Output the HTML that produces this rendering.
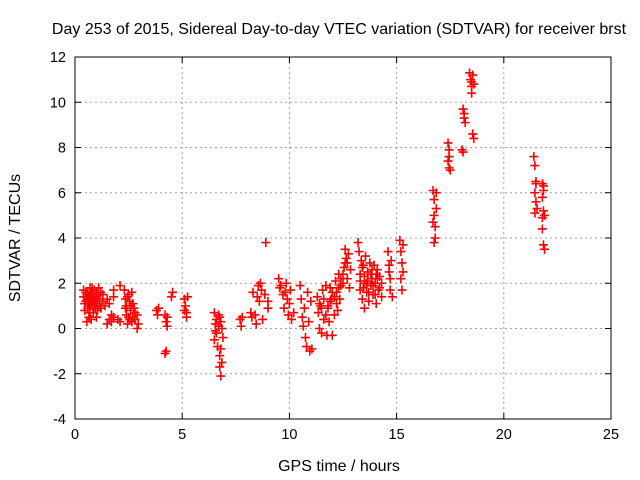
<!DOCTYPE html>
<html><head><meta charset="utf-8"><style>
body{margin:0;background:#fff}
svg{display:block;font-family:"Liberation Sans",sans-serif}
</style></head><body>
<svg id="chart" width="640" height="480">
<text x="339" y="34" text-anchor="middle" font-size="16">Day 253 of 2015, Sidereal Day-to-day VTEC variation (SDTVAR) for receiver brst</text>
<text x="339" y="471" text-anchor="middle" font-size="16">GPS time / hours</text>
<text transform="translate(20,238) rotate(-90)" text-anchor="middle" font-size="16">SDTVAR / TECUs</text>
<g id="grid"></g><g id="ticks"></g><g id="pts"></g>
<rect x="75" y="57" width="536" height="362" fill="none" stroke="#000" stroke-width="1"/>
</svg>
<script>
const xTicks=[0,5,10,15,20,25];
const yTicks=[-4,-2,0,2,4,6,8,10,12];
const hours=[0.4,0.4,0.45,0.45,0.5,0.55,0.6,0.65,0.7,0.7,0.75,0.8,0.85,0.85,0.9,0.95,1.0,1.0,1.05,1.1,1.15,1.2,1.2,1.3,1.3,1.4,1.5,1.6,1.6,1.5,1.7,1.7,1.8,1.8,1.8,2.0,2.1,2.1,
0.5,0.55,0.6,0.65,0.7,0.75,0.8,0.9,0.95,1.0,1.05,1.1,1.15,0.6,0.7,0.8,0.9,1.0,0.65,0.75,0.85,
2.3,2.35,2.4,2.4,2.45,2.5,2.5,2.55,2.6,2.65,2.65,2.7,2.8,2.8,2.9,2.9,2.95,
2.35,2.45,2.55,2.6,2.7,2.75,
3.8,3.85,3.9,4.2,4.25,4.3,4.2,4.25,4.3,4.55,4.5,
5.1,5.15,5.2,5.2,5.25,5.1,
6.5,6.55,6.5,6.6,6.6,6.65,6.7,6.75,6.75,6.8,6.8,6.85,6.85,6.9,6.55,6.7,6.8,6.75,
7.7,7.75,7.8,
8.2,8.25,8.3,8.4,8.45,8.5,8.55,8.6,8.65,8.7,8.75,8.85,8.9,9.0,9.0,
9.5,9.55,9.6,9.7,9.75,9.8,9.85,9.9,9.95,10.0,10.05,10.1,10.2,
10.5,10.55,10.6,10.65,10.7,10.75,10.8,10.85,10.9,10.95,11.0,11.05,
11.3,11.35,11.4,11.45,11.5,11.55,11.6,11.7,11.75,11.8,11.85,11.9,11.95,12.0,12.1,12.15,12.2,12.25,12.3,12.35,12.4,12.5,12.55,12.6,12.65,12.7,12.75,12.8,12.85,
11.4,11.5,11.6,11.7,11.8,11.9,12.0,12.1,12.2,12.3,12.4,12.5,12.6,12.7,
13.2,13.25,13.3,13.3,13.35,13.4,13.45,13.5,13.5,13.55,13.6,13.65,13.7,13.75,13.8,13.85,13.9,13.95,14.0,14.05,14.1,14.15,14.2,14.3,14.3,
13.3,13.4,13.5,13.6,13.7,13.8,13.9,14.0,14.1,14.2,13.45,13.65,13.85,14.05,
14.6,14.65,14.7,14.7,14.75,14.8,14.65,
15.15,15.2,15.25,15.2,15.25,15.3,15.3,
16.7,16.75,16.75,16.8,16.8,16.85,16.85,16.7,16.75,
17.4,17.45,17.4,17.45,17.5,17.45,
18.05,18.1,18.1,18.15,18.2,18.15,
18.4,18.45,18.5,18.5,18.55,18.6,18.55,18.6,18.5,
21.4,21.45,21.5,21.45,21.5,21.55,21.45,21.5,
21.8,21.85,21.8,21.85,21.9,21.8,21.85,21.9,21.85,21.8];
const sdtvar=[1.7,1.4,1.1,0.8,1.6,0.3,1.3,0.5,1.8,1.0,0.4,1.5,1.2,0.7,1.7,0.9,1.4,0.5,1.1,1.8,1.3,1.6,0.9,1.5,1.2,1.0,1.3,1.1,0.4,0.2,0.3,0.6,0.5,1.7,1.4,0.4,0.3,1.9,
1.2,1.5,1.6,1.1,1.4,1.2,1.0,1.3,1.1,1.6,0.8,1.5,1.0,0.9,0.7,1.8,1.0,1.2,1.4,1.6,1.3,
1.7,1.3,1.0,0.6,0.2,1.5,0.5,1.2,0.8,1.6,0.3,1.1,0.7,0.4,0.6,0.0,0.2,
0.9,1.4,0.4,1.0,0.5,0.9,
0.8,0.6,0.9,0.6,0.3,0.1,-1.1,-1.0,0.5,1.6,1.4,
1.3,1.0,0.7,0.5,1.4,0.8,
0.7,0.2,-0.5,0.4,-0.2,-0.8,0.6,-1.2,-1.7,-2.1,0.3,-1.5,0.0,-0.4,-0.1,0.1,-0.9,0.5,
0.4,0.1,0.5,
0.7,0.5,1.6,0.6,0.2,1.4,1.9,1.2,2.0,1.7,0.4,1.5,3.8,1.2,0.9,
2.2,1.8,1.9,1.5,0.9,1.6,2.0,1.3,0.6,1.1,1.7,0.4,0.7,
1.9,1.3,0.5,0.1,0.9,-0.4,-0.8,1.6,0.3,-1.0,1.2,-0.9,
1.4,0.7,0.0,1.0,-0.2,1.7,0.4,1.9,-0.3,1.0,0.3,1.8,1.3,-0.3,0.6,2.1,1.6,0.8,2.4,1.3,1.9,2.0,2.7,3.5,3.1,2.2,3.3,1.8,2.6,
1.1,0.9,1.3,0.6,0.9,1.2,1.6,1.4,1.1,1.8,2.2,2.4,2.9,2.9,
3.8,3.4,2.4,1.7,3.0,1.3,2.8,2.0,0.9,3.2,1.6,2.5,1.2,2.9,1.9,2.2,1.5,2.8,2.0,1.1,2.6,1.7,2.3,1.4,2.0,
2.1,2.7,2.3,2.0,1.6,2.4,1.9,1.5,2.2,1.8,1.8,2.1,2.6,2.4,
3.4,2.8,2.2,1.7,3.0,1.4,2.5,
3.9,3.4,2.9,2.2,1.7,3.7,2.5,
6.1,5.7,5.0,4.5,4.0,5.3,6.0,4.7,3.8,
8.2,7.9,7.4,7.1,7.0,7.6,
7.9,7.8,9.7,9.3,9.1,9.5,
11.3,11.0,10.7,10.4,11.2,10.8,8.6,8.4,10.9,
7.6,7.2,6.5,6.0,5.6,5.3,5.1,6.4,
6.4,6.1,5.8,5.2,5.0,4.4,3.7,3.5,6.3,4.9];
const NS="http://www.w3.org/2000/svg";
const X0=75,X1=611,Y0=419,Y1=57;
function sx(v){return X0+(v-0)/(25-0)*(X1-X0);}
function sy(v){return Y0-(v-(-4))/(12-(-4))*(Y0-Y1);}
function mk(tag,attrs,parent){const e=document.createElementNS(NS,tag);for(const k in attrs)e.setAttribute(k,attrs[k]);parent.appendChild(e);return e;}
const grid=document.getElementById('grid'),ticks=document.getElementById('ticks'),pts=document.getElementById('pts');
xTicks.forEach(t=>{const x=sx(t);
 if(t>0&&t<25){const g=mk('line',{x1:x,x2:x,y1:Y0,y2:Y1,stroke:'#a0a0a0','stroke-dasharray':'2,3'},grid);
 
 }
 mk('line',{x1:x,x2:x,y1:Y0,y2:Y0-6,stroke:'#000'},ticks);
 mk('line',{x1:x,x2:x,y1:Y1,y2:Y1+6,stroke:'#000'},ticks);
 const l=mk('text',{x:x,y:Y0+20,'text-anchor':'middle','font-size':'14.5'},ticks);l.textContent=t;
 
 
});
yTicks.forEach(t=>{const y=sy(t);
 if(t>-4&&t<12){const g=mk('line',{x1:X0,x2:X1,y1:y,y2:y,stroke:'#a0a0a0','stroke-dasharray':'2,3'},grid);
 
 }
 mk('line',{x1:X0,x2:X0+6,y1:y,y2:y,stroke:'#000'},ticks);
 mk('line',{x1:X1,x2:X1-6,y1:y,y2:y,stroke:'#000'},ticks);
 const l=mk('text',{x:X0-9,y:y+5,'text-anchor':'end','font-size':'14.5'},ticks);l.textContent=t;
 
 
});
hours.forEach((h,i)=>{const x=sx(h),y=sy(sdtvar[i]);
 const p=mk('path',{d:`M${x-4.5},${y}H${x+4.5}M${x},${y-4.5}V${y+4.5}`,stroke:'#ff0000','stroke-width':'1.6',fill:'none'},pts);
 
 
});
</script>
</body></html>
